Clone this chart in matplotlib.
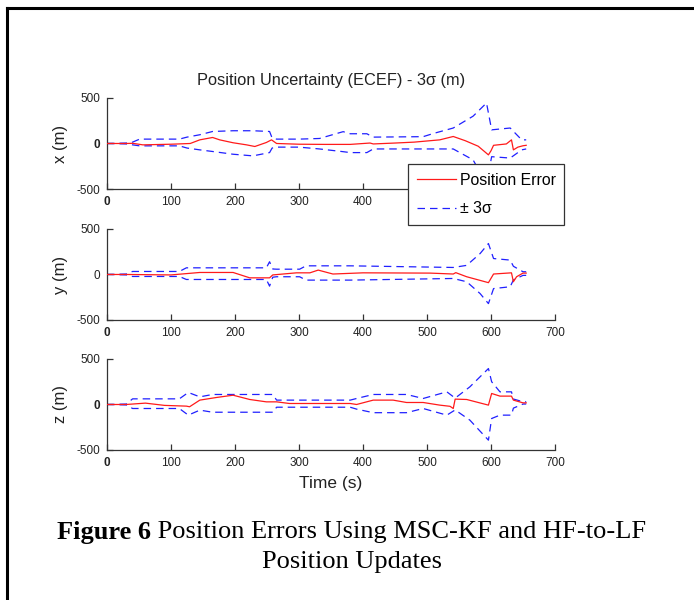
import numpy as np
import matplotlib
matplotlib.use('Agg')
import matplotlib.pyplot as plt
from matplotlib.lines import Line2D

plt.rc('font', family=['Liberation Sans', 'DejaVu Sans'], size=8.5)

# ---- data (time in s, values in m) ----
t_x_err = [0, 30, 40, 56, 100, 130, 145, 165, 176, 197, 218, 231, 249, 257, 265, 300,
           340, 380, 411, 416, 450, 480, 520, 541, 560, 580, 596, 600, 604, 624, 632,
           635, 642, 650, 655]
x_err = [0, 0, 2, -15, -8, 0, 40, 66, 40, 8, -15, -33, 11, 40, 0, -8,
         -10, -10, 5, -5, 5, 15, 40, 77, 30, -30, -125, -80, -20, -5, 40,
         -70, -40, -25, -20]
t_x_sig = [0, 30, 40, 51, 113, 125, 145, 165, 197, 228, 254, 258, 265, 300, 332, 369,
           380, 406, 416, 494, 510, 541, 572, 593, 601, 630, 648, 655]
x_up = [0, 5, 15, 48, 48, 70, 96, 132, 140, 140, 132, 60, 48, 48, 55, 130,
        107, 107, 70, 75, 110, 170, 300, 445, 150, 170, 40, 40]
x_lo = [0, -5, -15, -26, -26, -50, -70, -88, -118, -136, -100, -50, -40, -40, -60, -90,
        -100, -100, -60, -60, -60, -60, -180, -445, -145, -160, -70, -60]

t_y_err = [0, 30, 100, 145, 197, 223, 254, 259, 296, 317, 330, 353, 400, 505, 541, 545,
           562, 596, 604, 632, 635, 640, 650, 655]
y_err = [0, 0, -5, 22, 22, -37, -37, -5, 18, 18, 48, 5, 18, 15, 5, 20,
         -25, -90, 5, 18, -80, -25, 15, 15]
t_y_sig = [0, 30, 40, 113, 124, 249, 254, 259, 265, 301, 311, 380, 541, 562, 583, 596,
           604, 630, 635, 650, 655]
y_up = [0, 5, 33, 33, 73, 73, 140, 60, 58, 58, 95, 95, 77, 100, 230, 340,
        175, 158, 90, 30, 30]
y_lo = [0, -5, -22, -22, -55, -55, -128, -30, -25, -25, -62, -62, -44, -80, -210, -320,
        -155, -135, -60, -10, -10]

t_z_err = [0, 30, 60, 90, 124, 129, 145, 171, 197, 223, 249, 265, 285, 380, 390, 416,
           447, 468, 494, 520, 536, 541, 544, 562, 596, 601, 614, 632, 635, 650, 655]
z_err = [0, 0, 15, -10, -18, -25, 48, 77, 102, 55, 29, 29, 11, 11, 0, 48,
         48, 22, 22, -7, -20, -44, 59, 55, -7, 121, 92, 92, 48, 18, 18]
t_z_sig = [0, 30, 40, 113, 127, 145, 165, 249, 259, 265, 380, 390, 416, 468, 494, 531,
           544, 567, 596, 601, 614, 632, 635, 650, 655]
z_up = [0, 5, 62, 62, 132, 84, 110, 110, 110, 48, 48, 66, 110, 110, 66, 139,
        70, 194, 395, 250, 139, 139, 60, 30, 30]
z_lo = [0, -5, -44, -44, -117, -62, -85, -85, -85, -30, -30, -51, -90, -90, -44, -117,
        -60, -172, -392, -154, -117, -117, -40, 5, 5]

panels = [
    ('x (m)', t_x_err, x_err, t_x_sig, x_up, x_lo),
    ('y (m)', t_y_err, y_err, t_y_sig, y_up, y_lo),
    ('z (m)', t_z_err, z_err, t_z_sig, z_up, z_lo),
]
xticks = [0, 100, 200, 300, 400, 500, 600, 700]
yticks = [-500, 0, 500]

fig = plt.figure(figsize=(6.94, 6.0), dpi=100)
bottoms = [0.685, 0.4667, 0.25]
axes = []
for i, (lab, te, err, ts, up, lo) in enumerate(panels):
    ax = fig.add_axes([0.1542, bottoms[i], 0.6455, 0.1517])
    ax.plot(te, err, color='#ff1a1a', lw=0.9, label='Position Error', zorder=3)
    ax.plot(ts, up, color='#2020ff', lw=0.9, ls=(0, (6, 4)), label='± 3σ', zorder=2)
    ax.plot(ts, lo, color='#2020ff', lw=0.9, ls=(0, (6, 4)), zorder=2)
    ax.set_xlim(0, 700)
    ax.set_ylim(-500, 500)
    ax.set_xticks(xticks)
    ax.set_yticks(yticks)
    if i == 0:
        # the right part of the top axis is hidden under the legend
        ax.set_xticklabels([str(v) if v < 500 else '' for v in xticks])
    else:
        ax.set_xticklabels([str(v) for v in xticks])
    ax.set_yticklabels([str(v) for v in yticks])
    ax.get_xticklabels()[0].set_fontweight('bold')
    if i != 1:
        ax.get_yticklabels()[1].set_fontweight('bold')
    for s in ['top', 'right']:
        ax.spines[s].set_visible(False)
    for s in ['left', 'bottom']:
        ax.spines[s].set_color('#333333')
        ax.spines[s].set_linewidth(0.9)
    ax.tick_params(direction='in', length=4, width=0.9, color='#333333', pad=5,
                   labelcolor='#222222')
    ax.set_ylabel(lab, fontsize=12, labelpad=6, color='#222222')
    axes.append(ax)

axes[0].set_title('Position Uncertainty (ECEF) - 3σ (m)', fontsize=11.8,
                  color='#222222', pad=9)
axes[2].set_xlabel('Time (s)', fontsize=12.5, color='#222222', labelpad=5)

h, l = axes[0].get_legend_handles_labels()
leg = fig.legend(h, l, loc='upper left', bbox_to_anchor=(0.588, 0.7267),
                 borderaxespad=0, fancybox=False, framealpha=1, edgecolor='#333333',
                 fontsize=11.4, handlelength=2.5, handletextpad=0.2, labelspacing=0.85,
                 borderpad=0.55)
leg.get_frame().set_linewidth(0.9)

# border of the scanned figure (top and left)
fig.add_artist(Line2D([0.0105, 1.0], [0.986, 0.986], color='black', lw=2.2))
fig.add_artist(Line2D([0.0105, 0.0105], [0.0, 0.986], color='black', lw=2.2))

# caption: bold "Figure 6" then plain text, centred as a whole
serif = ['Liberation Serif', 'DejaVu Serif']
fig.canvas.draw()
r = fig.canvas.get_renderer()
t1 = fig.text(0, 0.113, 'Figure 6', family=serif, fontweight='bold', fontsize=19, va='center')
t2 = fig.text(0, 0.113, ' Position Errors Using MSC-KF and HF-to-LF', family=serif,
              fontsize=19, va='center')
w1 = t1.get_window_extent(r).width / fig.bbox.width
w2 = t2.get_window_extent(r).width / fig.bbox.width
x0 = 0.507 - (w1 + w2) / 2
t1.set_x(x0)
t2.set_x(x0 + w1)
fig.text(0.507, 0.063, 'Position Updates', family=serif, fontsize=19, ha='center', va='center')

fig.savefig('out.png', dpi=100)
